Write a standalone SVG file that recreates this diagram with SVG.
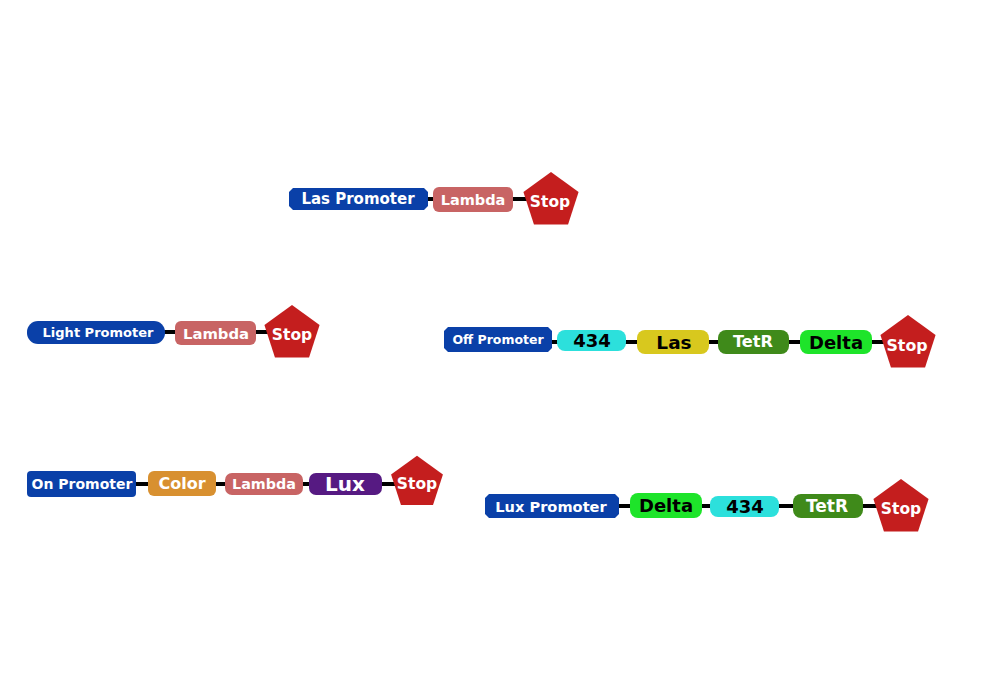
<svg xmlns="http://www.w3.org/2000/svg" width="1000" height="700" viewBox="0 0 1000 700">
<defs>
<polygon id="pent" points="0,-29 27.58,-8.96 17.05,23.46 -17.05,23.46 -27.58,-8.96"/>
<style>
text{font-family:"DejaVu Sans","Verdana",sans-serif;font-weight:bold;text-anchor:middle;dominant-baseline:central}
.w{fill:#ffffff}.k{fill:#000000}
.prom{fill:#0a40a8}
.lam{fill:#c86464}
.stop{fill:#c41e1e}
.c434{fill:#2ce0dc}
.las{fill:#d8c81e}
.tet{fill:#3f8a1a}
.del{fill:#1ee42a}
.col{fill:#d89030}
.lux{fill:#561a82}
.wire{stroke:#000;stroke-width:4;fill:none}
</style>
</defs>
<rect width="1000" height="700" fill="#ffffff"/>
<g id="connectors">
<line class="wire" x1="420" y1="199" x2="530" y2="199"/>
<line class="wire" x1="160" y1="332" x2="272" y2="332"/>
<line class="wire" x1="545" y1="342" x2="890" y2="342"/>
<line class="wire" x1="130" y1="484" x2="398" y2="484"/>
<line class="wire" x1="612" y1="506" x2="882" y2="506"/>
</g>
<!-- Row 1 -->
<g id="las-promoter"><polygon class="prom" points="293,188 424,188 428,192 428,206 424,210 293,210 289,206 289,192"/><text class="w" x="358" y="199" font-size="15">Las Promoter</text></g>
<g id="lambda-1"><rect class="lam" x="433" y="187" width="80" height="25" rx="6"/><text class="w" x="473" y="200" font-size="14.5">Lambda</text></g>
<g id="stop-1"><use href="#pent" class="stop" x="551" y="201"/><text class="w" x="550" y="202" font-size="15.5">Stop</text></g>
<!-- Row 2 -->
<g id="light-promoter"><rect class="prom" x="27" y="321" width="138" height="23" rx="11" ry="11"/><text class="w" x="98" y="332.5" font-size="13">Light Promoter</text></g>
<g id="lambda-2"><rect class="lam" x="175" y="321" width="81" height="24" rx="6"/><text class="w" x="216" y="333" font-size="14.8">Lambda</text></g>
<g id="stop-2"><use href="#pent" class="stop" x="292" y="334"/><text class="w" x="292" y="335" font-size="15.5">Stop</text></g>
<!-- Row 3 -->
<g id="off-promoter"><polygon class="prom" points="448,327 548,327 552,331 552,348 548,352 448,352 444,348 444,331"/><text class="w" x="498" y="339" font-size="12.5">Off Promoter</text></g>
<g id="p434-1"><rect class="c434" x="557" y="330" width="69" height="21" rx="8"/><text class="k" x="592" y="340.5" font-size="18">434</text></g>
<g id="las"><rect class="las" x="637" y="330" width="72" height="24" rx="8"/><text class="k" x="674" y="342" font-size="18.5">Las</text></g>
<g id="tetr-1"><rect class="tet" x="718" y="330" width="71" height="24" rx="8"/><text class="w" x="753" y="341.5" font-size="16.2">TetR</text></g>
<g id="delta-1"><rect class="del" x="800" y="330" width="72" height="24" rx="8"/><text class="k" x="836" y="342" font-size="18">Delta</text></g>
<g id="stop-3"><use href="#pent" class="stop" x="908" y="344"/><text class="w" x="907" y="345" font-size="15.8">Stop</text></g>
<!-- Row 4 -->
<g id="on-promoter"><rect class="prom" x="27" y="471" width="109" height="26" rx="4"/><text class="w" x="82" y="484" font-size="14">On Promoter</text></g>
<g id="color"><rect class="col" x="148" y="471" width="68" height="25" rx="6"/><text class="w" x="182" y="483.5" font-size="16">Color</text></g>
<g id="lambda-3"><rect class="lam" x="225" y="473" width="78" height="22" rx="7"/><text class="w" x="264" y="484" font-size="14.3">Lambda</text></g>
<g id="lux"><rect class="lux" x="309" y="473" width="73" height="22" rx="7"/><text class="w" x="345" y="483.5" font-size="20">Lux</text></g>
<g id="stop-4"><use href="#pent" class="stop" transform="translate(417,483) scale(0.94)"/><text class="w" x="417" y="484" font-size="15.5">Stop</text></g>
<!-- Row 5 -->
<g id="lux-promoter"><polygon class="prom" points="489,494 615,494 619,498 619,514 615,518 489,518 485,514 485,498"/><text class="w" x="551" y="506" font-size="14.6">Lux Promoter</text></g>
<g id="delta-2"><rect class="del" x="630" y="493" width="72" height="25" rx="8"/><text class="k" x="666" y="505.5" font-size="18">Delta</text></g>
<g id="p434-2"><rect class="c434" x="710" y="496" width="69" height="21" rx="8"/><text class="k" x="745" y="506.5" font-size="18">434</text></g>
<g id="tetr-2"><rect class="tet" x="793" y="494" width="70" height="24" rx="8"/><text class="w" x="827" y="505.5" font-size="17">TetR</text></g>
<g id="stop-5"><use href="#pent" class="stop" x="901" y="508"/><text class="w" x="901" y="509" font-size="15.5">Stop</text></g>
</svg>
